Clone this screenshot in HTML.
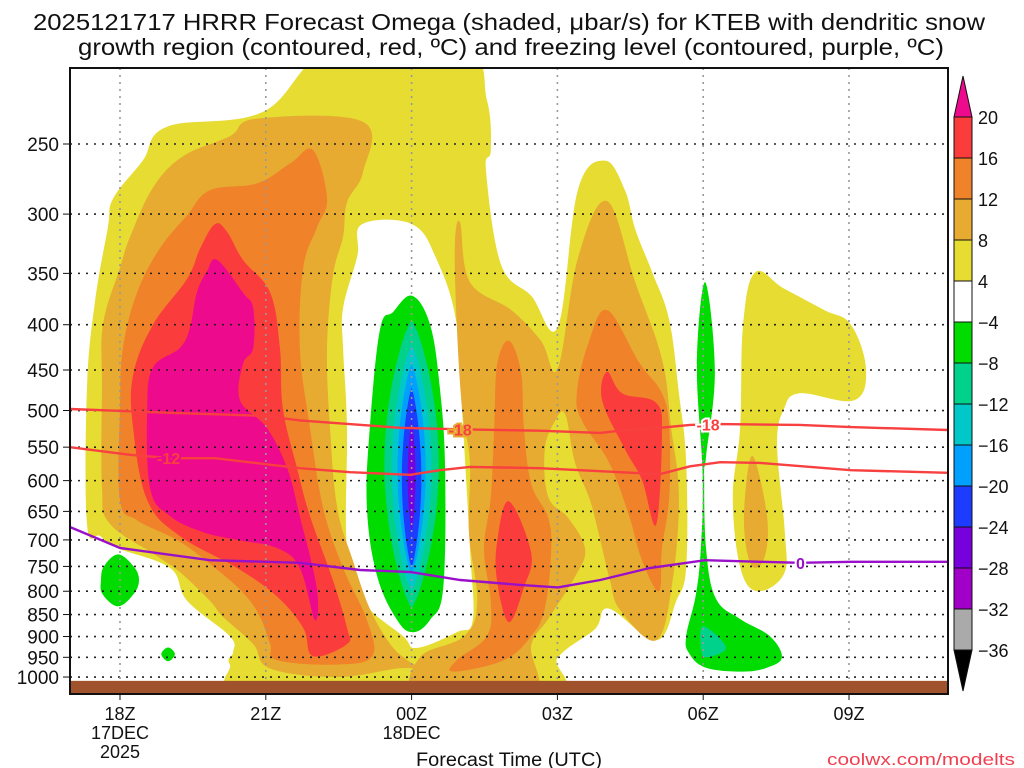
<!DOCTYPE html>
<html><head><meta charset="utf-8"><title>HRRR Omega KTEB</title>
<style>
html,body{margin:0;padding:0;background:#fff;}
svg{display:block;}
text{font-family:"Liberation Sans Narrow","Liberation Sans",sans-serif;fill:#111;}
</style></head>
<body>
<svg id="chart" width="1024" height="768" viewBox="0 0 1024 768" xmlns="http://www.w3.org/2000/svg">
<defs><clipPath id="plotclip"><rect x="70" y="68" width="878" height="626"/></clipPath></defs>
<text x="509" y="30" text-anchor="middle" font-size="23" textLength="952" lengthAdjust="spacingAndGlyphs">2025121717 HRRR Forecast Omega (shaded, μbar/s) for KTEB with dendritic snow</text>
<text x="511" y="55" text-anchor="middle" font-size="23" textLength="866" lengthAdjust="spacingAndGlyphs">growth region (contoured, red, ºC) and freezing level (contoured, purple, ºC)</text>
<g id="plot" clip-path="url(#plotclip)"></g>
<g id="axes"></g>
<g id="cbar"></g>
<text x="509" y="766" text-anchor="middle" font-size="19" textLength="186" lengthAdjust="spacingAndGlyphs">Forecast Time (UTC)</text>
<text x="1015" y="765" text-anchor="end" font-size="17" style="fill:#f04050" textLength="188" lengthAdjust="spacingAndGlyphs">coolwx.com/modelts</text>
</svg>
<script>
// ---- axis data ----
const pressureTicks = [250,300,350,400,450,500,550,600,650,700,750,800,850,900,950,1000];
const timeTicks = [0,3,6,9,12,15];
const timeTickLabels = [["18Z","17DEC","2025"],["21Z"],["00Z","18DEC"],["03Z"],["06Z"],["09Z"]];
const cbarLevels = ["20","16","12","8","4","-4","-8","-12","-16","-20","-24","-28","-32","-36"];
const cbarColors = ["#fa3c3c","#f0822a","#e6ab30","#e6dc32","#ffffff","#00dc00","#00d28c","#00c8c8","#00a0ff","#1e3cff","#7800dc","#a000c8","#aaaaaa"];

// ---- shaded omega regions: [hour since 18Z, hPa] ----
const yellowMain = [[4.38,195],[2.94,230],[0.97,239],[0.47,261],[-0.14,288],[-0.25,311],[-0.51,375],[-0.68,471],[-0.68,672],[-0.41,693],[-0.06,715],[1.03,753],[1.38,820],[2.26,899],[2.33,937],[2.26,968],[2.82,1050],[8.64,1050],[9.01,950],[9.77,883],[10.06,837],[11.03,909],[11.44,822],[11.65,751],[11.65,572],[11.5,478],[11.3,395],[10.95,349],[10.6,312],[10.39,282],[9.98,261],[9.42,282],[9.01,402],[8.46,371],[7.84,342],[7.53,268],[7.63,254],[7.55,223],[7.06,195]];
const whiteHole = [[4.98,308],[6.01,308],[6.52,338],[6.93,400],[7.06,523],[7.2,715],[7.26,862],[6.93,890],[6.11,927],[5.82,899],[5.0,820],[4.67,715],[4.67,523],[4.59,425],[4.59,383],[4.88,335]];
const yellowRight = [[13.07,349],[13.66,364],[14.49,385],[15.04,400],[15.35,449],[15.1,487],[13.99,478],[13.66,498],[13.52,547],[13.68,686],[13.66,765],[13.11,800],[12.76,751],[12.61,626],[12.76,523],[12.82,400]];
const lightOrange1 = [[2.82,234],[2.26,245],[1.3,258],[0.68,280],[0.21,318],[0,345],[-0.35,400],[-0.37,471],[-0.37,611],[-0.21,671],[0.76,730],[1.23,761],[1.85,820],[2.12,855],[2.74,918],[3.09,978],[4.47,1000],[5.7,978],[6.17,978],[5.91,957],[5.56,918],[5.14,837],[4.79,738],[4.47,644],[4.32,523],[4.26,425],[4.38,352],[4.59,318],[4.67,291],[5.0,269],[5.0,236]];
const lightOrange2 = [[7.0,307],[6.89,324],[6.93,400],[7.04,499],[7.2,572],[7.18,686],[7.35,822],[7.08,899],[6.17,950],[6.17,1050],[8.46,1050],[8.46,922],[8.81,860],[9.36,771],[9.57,717],[9.22,661],[8.81,626],[8.74,553],[8.95,514],[9.16,505],[9.36,572],[9.67,631],[9.88,700],[10.08,777],[10.29,840],[11.03,909],[11.36,785],[11.5,626],[11.34,523],[11.15,437],[10.6,358],[10.02,290],[9.42,337],[9.01,448],[8.66,417],[8.05,385],[7.2,358]];
const lightOrangeRight = [[13.02,563],[13.31,656],[13.27,730],[13.02,751],[12.86,698],[12.86,626]];
const orange1 = [[3.97,254],[3.5,263],[2.82,277],[1.85,282],[1.38,301],[0.82,328],[0.35,368],[0.06,425],[0,497],[0,631],[0.35,665],[1.17,700],[1.85,745],[2.53,803],[2.88,855],[3.09,918],[3.23,957],[4.47,968],[5.19,947],[5.08,862],[4.59,753],[4.18,644],[3.91,523],[3.7,425],[3.77,345],[4.05,311],[4.26,288]];
const orange2 = [[8.0,417],[8.25,452],[8.31,523],[8.46,605],[8.81,661],[8.87,724],[8.74,837],[8.46,899],[7.9,957],[6.87,986],[6.93,957],[7.55,899],[7.63,822],[7.49,717],[7.63,626],[7.7,523],[7.76,444]];
const orange3 = [[10.02,385],[10.68,441],[11.15,478],[11.3,523],[11.3,626],[11.15,717],[11.09,800],[10.74,738],[10.47,656],[10.06,572],[9.51,514],[9.4,478],[9.63,421]];
const red1 = [[1.95,308],[2.2,314],[2.53,338],[3.09,368],[3.29,425],[3.35,497],[3.64,580],[3.91,658],[4.38,777],[4.67,880],[4.67,918],[3.97,947],[3.77,880],[3.23,811],[2.41,753],[1.23,693],[0.56,631],[0.27,523],[0.27,456],[0.68,400],[1.38,355],[1.65,328]];
const red2 = [[8.0,633],[8.46,724],[8.31,792],[8.0,867],[7.76,779],[7.76,704]];
const red3 = [[10.02,452],[10.33,478],[11.03,490],[11.15,533],[11.03,673],[10.74,599],[10.39,553],[9.92,487]];
const magenta1 = [[2.0,338],[2.53,368],[2.74,383],[2.74,425],[2.53,443],[2.47,487],[3.02,523],[3.44,581],[3.7,658],[4.05,794],[4.01,862],[3.7,753],[3.23,715],[2.41,700],[1.71,686],[1.03,658],[0.62,612],[0.56,497],[0.68,447],[1.23,425],[1.44,403],[1.58,368],[1.79,348]];
const green00Z = [[6.01,371],[6.38,400],[6.58,471],[6.69,581],[6.65,794],[6.38,862],[6.03,890],[5.7,862],[5.29,769],[5.08,644],[5.14,523],[5.35,405],[5.62,387]];
// nested negative-omega cores at 00Z: [pTop, pBottom, halfWidthHours]
const coreCenterHour = 6.0;
const coreTops = [395,421,443,471,513];
const coreBottoms = [837,802,767,753,686];
const coreHalfWidths = [0.56,0.41,0.29,0.2,0.08];
const coreColors = ["#00d28c","#00c8c8","#00a0ff","#1e3cff","#7800dc"];
const green06Z = [[12.04,358],[12.24,451],[12.06,563],[12.02,593],[12.06,717],[12.26,815],[12.76,860],[13.37,899],[13.62,950],[13.31,976],[12.82,986],[12.06,976],[11.71,940],[11.65,899],[11.85,807],[11.95,717],[11.99,593],[11.87,444]];
const teal06Z = [[12.0,876],[12.47,926],[12.06,950],[11.95,926]];
const greenBlob1 = [[-0.04,727],[0.28,750],[0.39,777],[0.28,806],[-0.04,832],[-0.36,806],[-0.39,777],[-0.33,750]];
const greenBlob2 = [[0.99,926],[1.13,942],[0.99,960],[0.85,942]];

// ---- contour lines ----
const dgzWarmHours = [-1.03,1.03,2.98,3.7,5.76,7.0,8.64,9.88,10.29,11.11,11.73,12.35,13.99,15.04,17.04];
const dgzWarmP = [498,503,507,513,523,525,527,530,527,523,519,518,519,522,526];
const dgzColdHours = [-1.03,0.21,1.03,1.95,3.7,4.73,5.97,6.58,7.2,8.64,10.29,11.11,11.73,12.35,13.17,15.04,17.04];
const dgzColdP = [550,561,566,566,581,587,591,584,579,581,587,590,578,572,573,584,588];
const frzHours = [-1.03,0,1.85,3.7,4.94,5.97,7.0,8.23,9.01,9.88,10.9,12.04,13.17,13.99,15.04,17.04];
const frzP = [677,715,738,743,757,761,777,787,792,777,753,738,741,743,741,741];

// ---- axis functions ----
const X = h => 120 + 48.6*h;
const Y = p => 144 + 384.5*Math.log(p/250);
const NS = "http://www.w3.org/2000/svg";
function mk(tag, attrs, parent){const e=document.createElementNS(NS,tag);for(const k in attrs)e.setAttribute(k,attrs[k]);parent.appendChild(e);return e;}
const plot = document.getElementById('plot');
const axes = document.getElementById('axes');
const cbar = document.getElementById('cbar');
function smoothPath(arr){
  const P = arr.map(d=>[X(d[0]),Y(d[1])]);
  const n = P.length; const t = 0.18;
  let d = "M"+P[0][0].toFixed(1)+" "+P[0][1].toFixed(1);
  for(let i=0;i<n;i++){
    const p0=P[(i-1+n)%n], p1=P[i], p2=P[(i+1)%n], p3=P[(i+2)%n];
    const c1=[p1[0]+(p2[0]-p0[0])*t, p1[1]+(p2[1]-p0[1])*t];
    const c2=[p2[0]-(p3[0]-p1[0])*t, p2[1]-(p3[1]-p1[1])*t];
    d += " C"+c1[0].toFixed(1)+" "+c1[1].toFixed(1)+" "+c2[0].toFixed(1)+" "+c2[1].toFixed(1)+" "+p2[0].toFixed(1)+" "+p2[1].toFixed(1);
  }
  return d+"Z";
}
function region(arr, color, name){
  const el = mk('path',{d:smoothPath(arr),fill:color},plot);
  
  
}
region(yellowMain,"#e6dc32","omega-4-main");
region(whiteHole,"#ffffff","omega-neutral-00z");
region(yellowRight,"#e6dc32","omega-4-right");
region(lightOrange1,"#e6ab30","omega-8-left");
region(lightOrange2,"#e6ab30","omega-8-middle");
region(lightOrangeRight,"#e6ab30","omega-8-right");
region(orange1,"#f0822a","omega-12-left");
region(orange2,"#f0822a","omega-12-middle");
region(orange3,"#f0822a","omega-12-right");
region(red1,"#fa3c3c","omega-16-left");
region(red2,"#fa3c3c","omega-16-middle");
region(red3,"#fa3c3c","omega-16-right");
region(magenta1,"#ee0a8c","omega-20-core");
region(green00Z,"#00dc00","omega-neg4-00z");
for(let i=0;i<coreTops.length;i++){
  const yt=Y(coreTops[i]), yb=Y(coreBottoms[i]), cx=X(coreCenterHour), hw=X(coreCenterHour+coreHalfWidths[i])-cx;
  const L=[],R=[];
  for(let k=0;k<=24;k++){const t=k/24;const y=yt+(yb-yt)*t;const w=hw*Math.pow(Math.sin(Math.PI*t),0.75);L.push((cx-w).toFixed(1)+","+y.toFixed(1));R.unshift((cx+w).toFixed(1)+","+y.toFixed(1));}
  const el = mk('polygon',{points:L.concat(R).join(" "),fill:coreColors[i]},plot);
  
  
}
region(green06Z,"#00dc00","omega-neg4-06z");
region(teal06Z,"#00d28c","omega-neg8-06z");
region(greenBlob1,"#00dc00","omega-neg4-blob-18z");
region(greenBlob2,"#00dc00","omega-neg4-blob-19z");

// grid
pressureTicks.forEach(p=>{
  const g = mk('line',{x1:70,x2:948,y1:Y(p),y2:Y(p),stroke:"#222","stroke-width":1.6,"stroke-dasharray":"2,6"},plot);
  
  
});
timeTicks.forEach(h=>{
  const g = mk('line',{x1:X(h),x2:X(h),y1:68,y2:694,stroke:"#999","stroke-width":1.6,"stroke-dasharray":"2,5"},plot);
  
  
});

// ground
const ground = mk('rect',{x:70,y:Y(1010),width:878,height:30,fill:"#a0522d"},plot);



// contour lines
function line(hs, ps, color, name){
  const d = hs.map((h,i)=>(i?"L":"M")+X(h).toFixed(1)+" "+Y(ps[i]).toFixed(1)).join(" ");
  const el = mk('path',{d:d,fill:"none",stroke:color,"stroke-width":2.4},plot);
  
  
}
line(dgzWarmHours,dgzWarmP,"#f84040","dgz-minus12-line");
line(dgzColdHours,dgzColdP,"#f84040","dgz-minus18-line");
line(frzHours,frzP,"#9a10c8","freezing-level-line");
function interp(hs,ps,h){for(let i=1;i<hs.length;i++){if(h<=hs[i]){const t=(h-hs[i-1])/(hs[i]-hs[i-1]);return ps[i-1]+t*(ps[i]-ps[i-1]);}}return ps[ps.length-1];}
function clabel(txt,h,hs,ps,color,name,bg){
  const y=Y(interp(hs,ps,h));
  const t=mk('text',{x:X(h),y:y+6,"text-anchor":"middle","font-size":16,"font-weight":"bold",style:"fill:"+color+";stroke:"+bg+";stroke-width:4;paint-order:stroke"},plot);
  t.textContent=txt;
  
  
}
clabel("-12",1.0,dgzColdHours,dgzColdP,"#f84040","label-minus12","#ee0a8c");
clabel("-18",7.0,dgzWarmHours,dgzWarmP,"#f84040","label-minus18-a","#e6ab30");
clabel("-18",12.1,dgzWarmHours,dgzWarmP,"#f84040","label-minus18-b","#ffffff");
clabel("0",14.0,frzHours,frzP,"#9a10c8","label-freezing-0","#ffffff");

// axes frame + ticks
const frame = mk('rect',{x:70,y:68,width:878,height:626,fill:"none",stroke:"#111","stroke-width":2},axes);


pressureTicks.forEach(p=>{
  mk('line',{x1:63,x2:70,y1:Y(p),y2:Y(p),stroke:"#111","stroke-width":1},axes);
  const t=mk('text',{x:59,y:Y(p)+7,"text-anchor":"end","font-size":19},axes);
  t.textContent=p;
  
  
});
timeTicks.forEach((h,i)=>{
  mk('line',{x1:X(h),x2:X(h),y1:694,y2:700,stroke:"#111","stroke-width":1},axes);
  timeTickLabels[i].forEach((s,j)=>{
    const t=mk('text',{x:X(h),y:720+j*19,"text-anchor":"middle","font-size":18},axes);
    t.textContent=s;
    
    
  });
});

// colorbar
const cbTop=117, cbStep=41, cbX=954, cbW=18;
const tipTop = mk('polygon',{points:`${cbX},${cbTop} ${cbX+cbW},${cbTop} ${cbX+cbW/2},${cbTop-41}`,fill:"#ee0a8c",stroke:"#111","stroke-width":1},cbar);


cbarColors.forEach((c,i)=>{
  const r=mk('rect',{x:cbX,y:cbTop+i*cbStep,width:cbW,height:cbStep,fill:c,stroke:"#111","stroke-width":1},cbar);
  
  
});
const cbBot=cbTop+cbarColors.length*cbStep;
const tipBot = mk('polygon',{points:`${cbX},${cbBot} ${cbX+cbW},${cbBot} ${cbX+cbW/2},${cbBot+41}`,fill:"#000",stroke:"#111","stroke-width":1},cbar);


cbarLevels.forEach((s,i)=>{
  const t=mk('text',{x:978,y:cbTop+i*cbStep+7,"font-size":18},cbar);
  t.textContent=s.replace("-","\u2212");
  
  
});
</script>
</body></html>
